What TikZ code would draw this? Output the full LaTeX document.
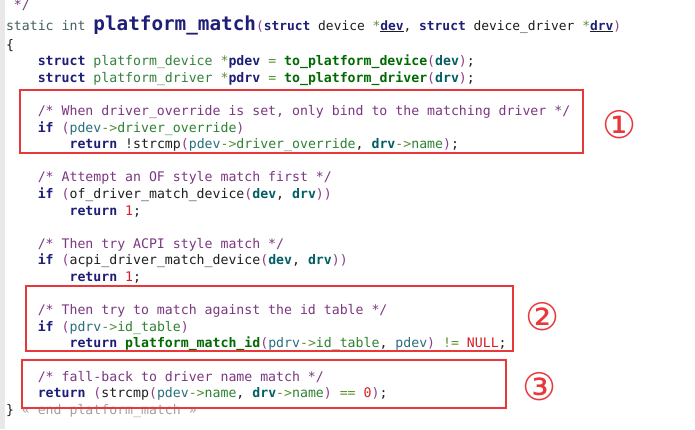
\documentclass[tikz,border=0pt]{standalone}
\usepackage{fontspec}
\newfontfamily\codefam{DejaVu Sans Mono}
\newfontfamily\symfam{DejaVu Sans}
\definecolor{kwc}{RGB}{30,30,120}
\definecolor{stc}{RGB}{70,95,95}
\definecolor{tyc}{RGB}{50,130,60}
\definecolor{fnc}{RGB}{0,105,0}
\definecolor{puc}{RGB}{140,60,140}
\definecolor{vac}{RGB}{40,110,125}
\definecolor{vbc}{RGB}{0,95,100}
\definecolor{mbc}{RGB}{45,130,50}
\definecolor{opc}{RGB}{90,145,50}
\definecolor{nmc}{RGB}{215,30,40}
\definecolor{cmc}{RGB}{125,55,130}
\definecolor{grc}{RGB}{160,160,160}
\definecolor{txc}{RGB}{30,30,30}
\definecolor{boxc}{RGB}{232,56,60}
\definecolor{gutc}{RGB}{232,232,232}
\newcommand\cckw[1]{{\bfseries\color{kwc}#1}}
\newcommand\ccst[1]{{\color{stc}#1}}
\newcommand\ccty[1]{{\color{tyc}#1}}
\newcommand\ccfn[1]{{\bfseries\color{fnc}#1}}
\newcommand\ccpa[1]{{\color{puc}#1}}
\newcommand\ccva[1]{{\color{vac}#1}}
\newcommand\ccvb[1]{{\bfseries\color{vbc}#1}}
\newcommand\ccmb[1]{{\color{mbc}#1}}
\newcommand\ccop[1]{{\color{opc}#1}}
\newcommand\ccnm[1]{{\color{nmc}#1}}
\newcommand\cccm[1]{{\color{cmc}#1}}
\newcommand\ccgr[1]{{\color{grc}#1}}
\tikzset{
  codeline/.style={anchor=base west, inner sep=0pt, outer sep=0pt, text=txc,
    font=\codefam\fontsize{13.2}{16.6}\selectfont},
  redbox/.style={draw=boxc, line width=2.6pt},
  marknum/.style={text=boxc, inner sep=0pt, font=\symfam\fontsize{38}{38}\selectfont}
}
\begin{document}
\begin{tikzpicture}[x=1pt,y=-1pt]
\useasboundingbox (0,0) rectangle (695,429);
\fill[white] (0,0) rectangle (695,429);
\fill[gutc] (0,0) rectangle (5,429);
% code lines
\node[codeline] (l0) at (13.95,9) {\cccm{*/}};
\node[codeline] (l1) at (6,30) {\ccst{static int }{\fontsize{19.3}{20}\selectfont\cckw{platform\_match}}{\fontsize{12.9}{16}\selectfont\ccpa{(}\cckw{struct} device \ccop{*}\underline{\cckw{dev}}, \cckw{struct} device\_driver \ccop{*}\underline{\cckw{drv}}\ccpa{)}}};
\node[codeline] (l2) at (6,49) {\{};
\node[codeline] (l3) at (37.8,65.6) {\cckw{struct} \ccty{platform\_device} \ccop{*}\cckw{pdev} \ccop{=} \ccfn{to\_platform\_device}\ccpa{(}\ccvb{dev}\ccpa{)};};
\node[codeline] (l4) at (37.8,82.2) {\cckw{struct} \ccty{platform\_driver} \ccop{*}\cckw{pdrv} \ccop{=} \ccfn{to\_platform\_driver}\ccpa{(}\ccvb{drv}\ccpa{)};};
\node[codeline] (l6) at (37.8,115.4) {\cccm{/* When driver\_override is set, only bind to the matching driver */}};
\node[codeline] (l7) at (37.8,132) {\cckw{if} \ccpa{(}\ccva{pdev}\ccop{->}\ccmb{driver\_override}\ccpa{)}};
\node[codeline] (l8) at (69.6,148.6) {\cckw{return} !strcmp\ccpa{(}\ccva{pdev}\ccop{->}\ccmb{driver\_override}, \ccvb{drv}\ccop{->}\ccmb{name}\ccpa{)};};
\node[codeline] (l10) at (37.8,181.8) {\cccm{/* Attempt an OF style match first */}};
\node[codeline] (l11) at (37.8,198.4) {\cckw{if} \ccpa{(}of\_driver\_match\_device\ccpa{(}\ccvb{dev}, \ccvb{drv}\ccpa{))}};
\node[codeline] (l12) at (69.6,215) {\cckw{return} \ccnm{1};};
\node[codeline] (l14) at (37.8,248.2) {\cccm{/* Then try ACPI style match */}};
\node[codeline] (l15) at (37.8,264.8) {\cckw{if} \ccpa{(}acpi\_driver\_match\_device\ccpa{(}\ccvb{dev}, \ccvb{drv}\ccpa{))}};
\node[codeline] (l16) at (69.6,281.4) {\cckw{return} \ccnm{1};};
\node[codeline] (l18) at (37.8,314.6) {\cccm{/* Then try to match against the id table */}};
\node[codeline] (l19) at (37.8,331.2) {\cckw{if} \ccpa{(}\ccva{pdrv}\ccop{->}\ccmb{id\_table}\ccpa{)}};
\node[codeline] (l20) at (69.6,347.8) {\cckw{return} \ccfn{platform\_match\_id}\ccpa{(}\ccva{pdrv}\ccop{->}\ccmb{id\_table}, \ccva{pdev}\ccpa{)} \ccop{!=} \ccnm{NULL};};
\node[codeline] (l22) at (37.8,381) {\cccm{/* fall-back to driver name match */}};
\node[codeline] (l23) at (37.8,397.6) {\cckw{return} \ccpa{(}strcmp\ccpa{(}\ccva{pdev}\ccop{->}\ccmb{name}, \ccvb{drv}\ccop{->}\ccmb{name}\ccpa{)} \ccop{==} \ccnm{0}\ccpa{)};};
\node[codeline] (l24) at (6,414.2) {\}\ \ccgr{« end platform\_match »}};
% highlight boxes
\draw[redbox] (20,90) rectangle (583,153);
\draw[redbox] (26,286) rectangle (513,351);
\draw[redbox] (22,360) rectangle (506,408);
% circled markers
\node[marknum] (c1) at (620,125) {①};
\node[marknum] (c2) at (543,317) {②};
\node[marknum] (c3) at (540,387) {③};
\end{tikzpicture}
\end{document}
